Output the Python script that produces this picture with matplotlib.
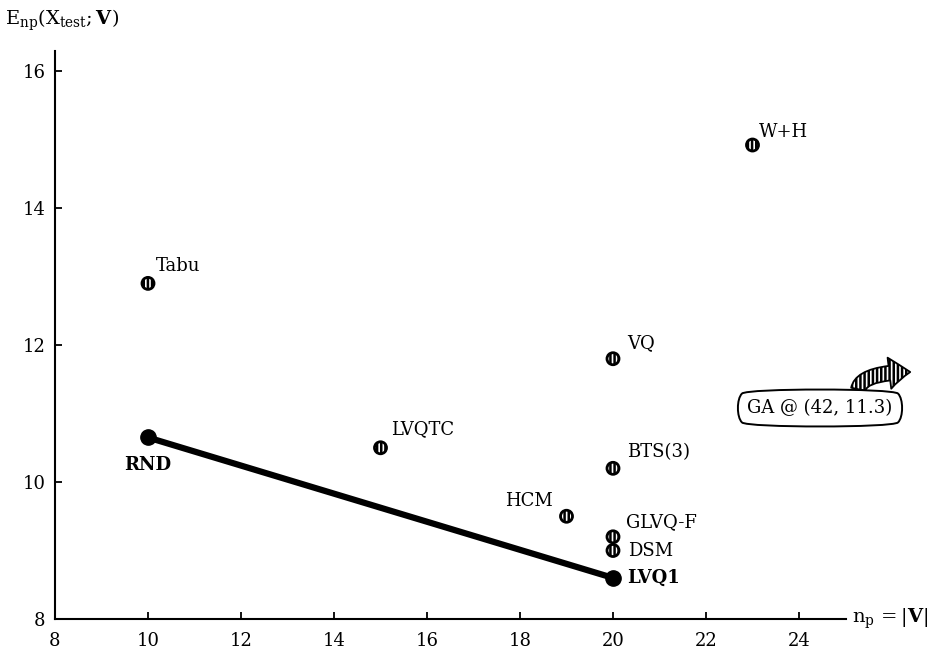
import numpy as np
import matplotlib
matplotlib.use("Agg")
import matplotlib.pyplot as plt
from matplotlib.patches import FancyArrowPatch

plt.rcParams['font.family'] = 'DejaVu Serif'
plt.rcParams['mathtext.fontset'] = 'dejavuserif'
plt.rcParams['hatch.linewidth'] = 1.8

# method results: prototypes n_p vs test error
methods = ['Tabu', 'W+H', 'VQ', 'BTS(3)', 'LVQTC', 'HCM', 'GLVQ-F', 'DSM']
n_p = [10, 23, 20, 20, 15, 19, 20, 20]
err = [12.9, 14.92, 11.8, 10.2, 10.5, 9.5, 9.2, 9.0]

# reference line RND -> LVQ1
line_names = ['RND', 'LVQ1']
line_np = [10, 20]
line_err = [10.65, 8.6]

ga_point = (42, 11.3)

# label offsets in pixels (dx, dy, ha, va)
offsets = {
    'Tabu': (8, 8, 'left', 'bottom'),
    'W+H': (6, 4, 'left', 'bottom'),
    'VQ': (14, 7, 'left', 'bottom'),
    'BTS(3)': (14, 7, 'left', 'bottom'),
    'LVQTC': (11, 10, 'left', 'bottom'),
    'HCM': (-14, 6, 'right', 'bottom'),
    'GLVQ-F': (13, 15, 'left', 'center'),
    'DSM': (15, 0, 'left', 'center'),
}

fig = plt.figure(figsize=(9.42, 6.51), dpi=100)
ax = fig.add_axes([55 / 942, 32 / 651, 790.5 / 942, 568.5 / 651])

ax.plot(line_np, line_err, color='black', lw=4.5, marker='o', ms=11,
        solid_capstyle='round', zorder=3)

ax.scatter(n_p, err, s=75, facecolor='white', edgecolor='black',
           linewidth=2.0, hatch='||||', zorder=4)

for name, x, y in zip(methods, n_p, err):
    dx, dy, ha, va = offsets[name]
    ax.annotate(name, (x, y), xytext=(dx, dy), textcoords='offset pixels',
                ha=ha, va=va, fontsize=13)

ax.annotate(line_names[0], (line_np[0], line_err[0]), xytext=(0, -28),
            textcoords='offset pixels', ha='center', va='center',
            fontsize=13, fontweight='bold')
ax.annotate(line_names[1], (line_np[1], line_err[1]), xytext=(14, 0),
            textcoords='offset pixels', ha='left', va='center',
            fontsize=13, fontweight='bold')

ax.set_xlim(8, 25)
ax.set_ylim(8, 16.3)
ax.set_xticks(np.arange(8, 25, 2))
ax.set_yticks(np.arange(8, 17, 2))
ax.tick_params(direction='in', length=5, width=1.3, labelsize=13)
ax.tick_params(axis='x', pad=9)
ax.tick_params(axis='y', pad=7)

for s in ['top', 'right']:
    ax.spines[s].set_visible(False)
for s in ['left', 'bottom']:
    ax.spines[s].set_linewidth(1.5)

# axis arrow heads
ax.plot(1, 0, '>k', ms=12, transform=ax.get_yaxis_transform(), clip_on=False)
ax.plot(0, 1, '^k', ms=12, transform=ax.get_xaxis_transform(), clip_on=False)

fig.text(5 / 942, 1 - 20 / 651,
         r'$\mathrm{E}_{\mathrm{np}}(\mathrm{X}_{\mathrm{test}};\mathbf{V})$',
         fontsize=14, ha='left', va='center')
fig.text(852 / 942, 32 / 651,
         r'$\mathrm{n}_{\mathrm{p}}\,=|\mathbf{V}|$',
         fontsize=14, ha='left', va='center')

# off-chart GA callout
fig.text(820 / 942, 1 - 408 / 651, 'GA @ (%d, %.1f)' % ga_point,
         fontsize=13, ha='center', va='center',
         bbox=dict(boxstyle='round4,pad=0.6', fc='white', ec='black', lw=1.4))

arr = FancyArrowPatch((858 / 942, 1 - 392 / 651), (913 / 942, 1 - 372 / 651),
                      transform=fig.transFigure,
                      connectionstyle='angle3,angleA=90,angleB=0',
                      arrowstyle='simple,head_width=1.5,head_length=1.0,tail_width=0.7',
                      mutation_scale=15, fc='white', ec='black', lw=1.3,
                      hatch='||||')
fig.patches.append(arr)

fig.savefig('out.png', dpi=100)
